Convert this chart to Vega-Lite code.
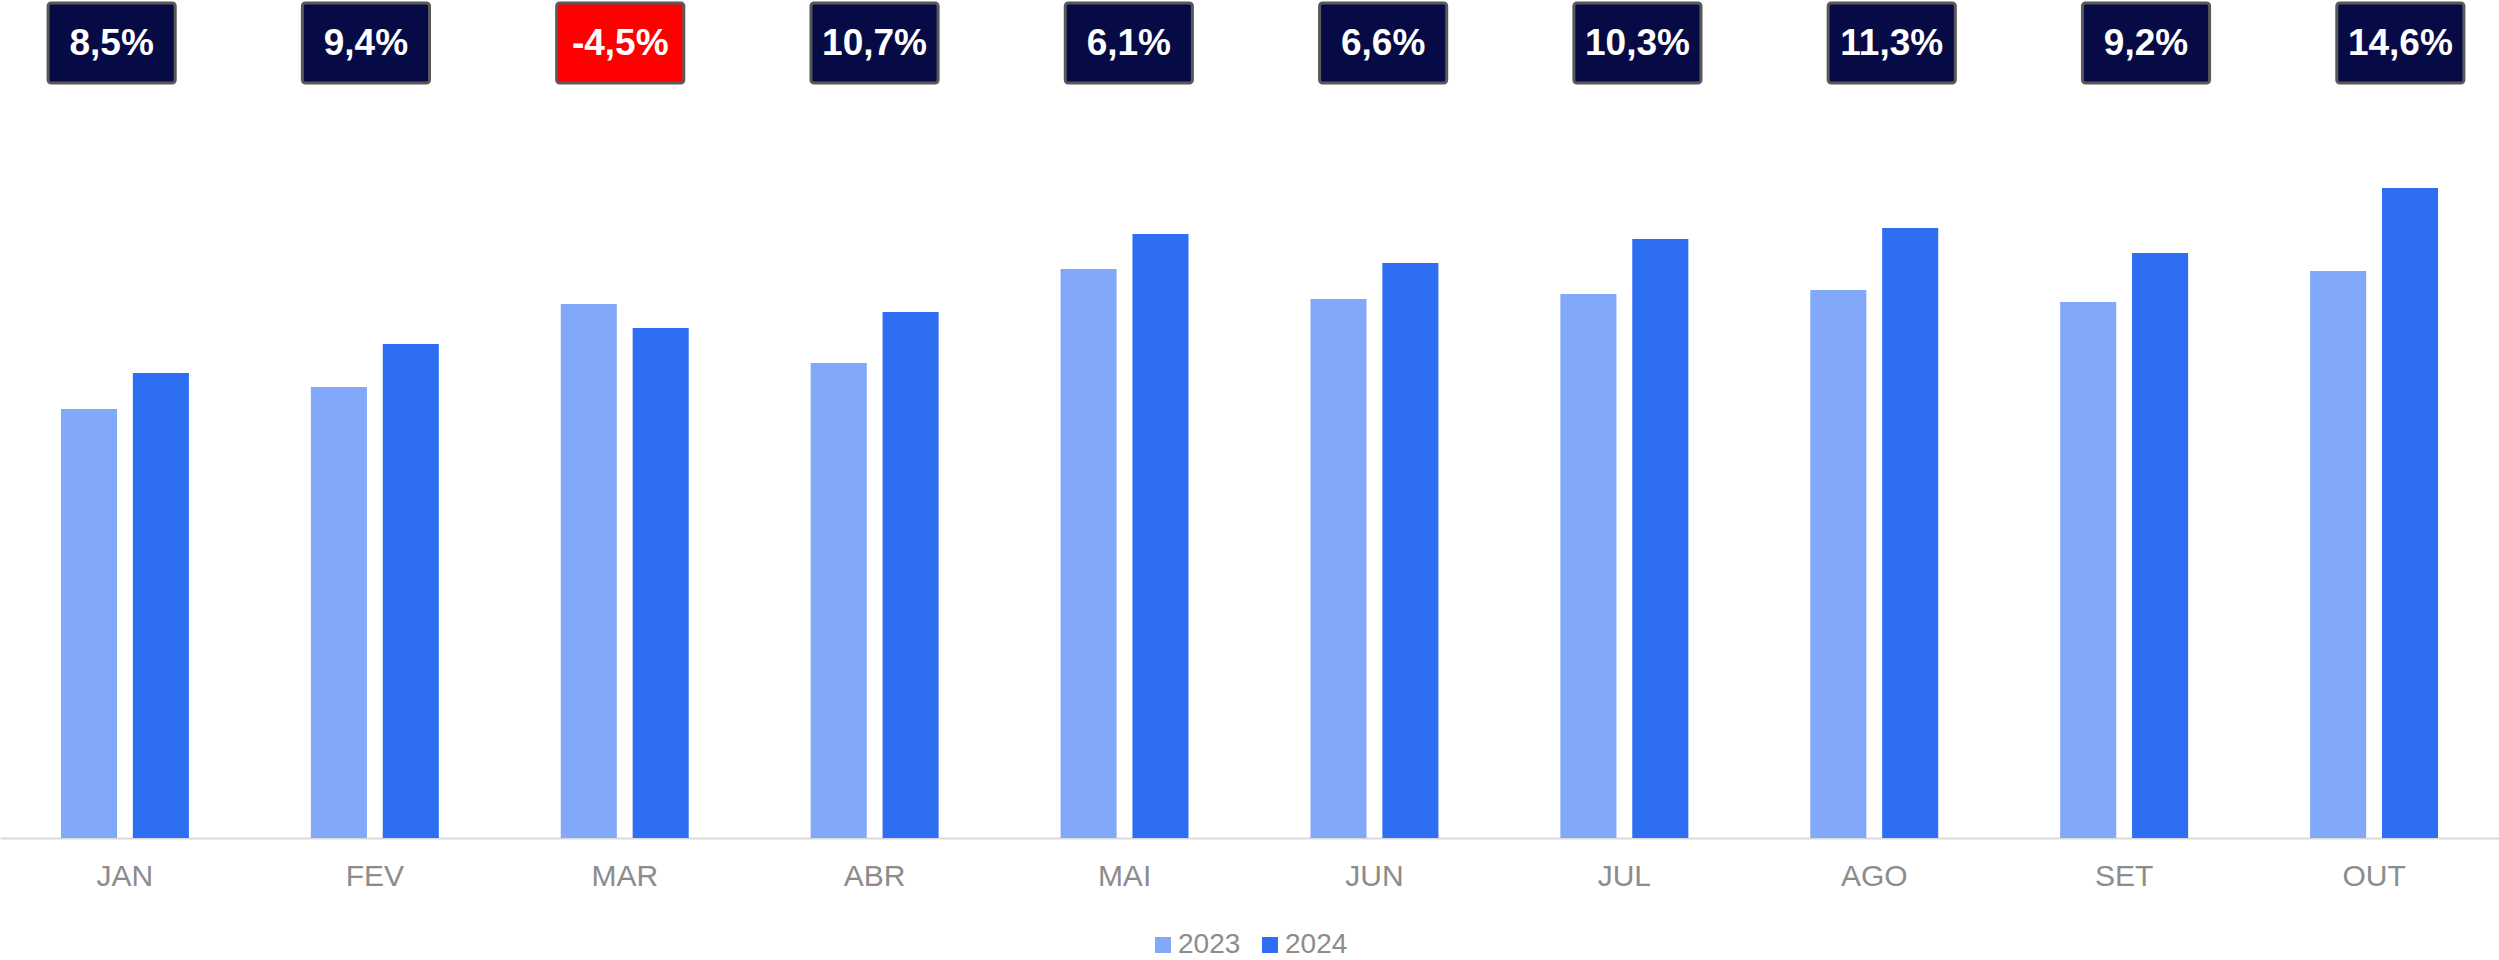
{
  "$schema": "https://vega.github.io/schema/vega-lite/v6.json",
  "width": 2499,
  "height": 838,
  "autosize": "none",
  "padding": {"left": 0, "right": 0, "top": 0, "bottom": 122},
  "background": "white",
  "config": {
    "view": {"stroke": null},
    "font": "Liberation Sans"
  },
  "datasets": {
    "bars": [
      {"month": "JAN", "year": "2023", "value": 429},
      {"month": "JAN", "year": "2024", "value": 465},
      {"month": "FEV", "year": "2023", "value": 451},
      {"month": "FEV", "year": "2024", "value": 494},
      {"month": "MAR", "year": "2023", "value": 534},
      {"month": "MAR", "year": "2024", "value": 510},
      {"month": "ABR", "year": "2023", "value": 475},
      {"month": "ABR", "year": "2024", "value": 526},
      {"month": "MAI", "year": "2023", "value": 569},
      {"month": "MAI", "year": "2024", "value": 604},
      {"month": "JUN", "year": "2023", "value": 539},
      {"month": "JUN", "year": "2024", "value": 575},
      {"month": "JUL", "year": "2023", "value": 544},
      {"month": "JUL", "year": "2024", "value": 599},
      {"month": "AGO", "year": "2023", "value": 548},
      {"month": "AGO", "year": "2024", "value": 610},
      {"month": "SET", "year": "2023", "value": 536},
      {"month": "SET", "year": "2024", "value": 585},
      {"month": "OUT", "year": "2023", "value": 567},
      {"month": "OUT", "year": "2024", "value": 650}
    ],
    "changes": [
      {"month": "JAN", "change": 8.5, "label": "8,5%"},
      {"month": "FEV", "change": 9.4, "label": "9,4%"},
      {"month": "MAR", "change": -4.5, "label": "-4,5%"},
      {"month": "ABR", "change": 10.7, "label": "10,7%"},
      {"month": "MAI", "change": 6.1, "label": "6,1%"},
      {"month": "JUN", "change": 6.6, "label": "6,6%"},
      {"month": "JUL", "change": 10.3, "label": "10,3%"},
      {"month": "AGO", "change": 11.3, "label": "11,3%"},
      {"month": "SET", "change": 9.2, "label": "9,2%"},
      {"month": "OUT", "change": 14.6, "label": "14,6%"}
    ]
  },
  "resolve": {"scale": {"x": "independent"}, "axis": {"x": "independent"}},
  "layer": [
    {
      "data": {"name": "bars"},
      "mark": {"type": "bar"},
      "encoding": {
        "x": {
          "field": "month",
          "type": "nominal",
          "scale": {
            "domain": ["JAN", "FEV", "MAR", "ABR", "MAI", "JUN", "JUL", "AGO", "SET", "OUT"],
            "paddingInner": 0.488,
            "paddingOuter": 0.244
          },
          "axis": {
            "title": null,
            "labelAngle": 0,
            "ticks": false,
            "labelPadding": 23,
            "labelFontSize": 30,
            "labelColor": "#8C8C8C",
            "labelFont": "Liberation Sans",
            "domainColor": "#D9D9D9",
            "domainWidth": 2,
            "grid": false
          }
        },
        "xOffset": {
          "field": "year",
          "type": "nominal",
          "scale": {"paddingInner": 0.22, "paddingOuter": 0}
        },
        "y": {
          "field": "value",
          "type": "quantitative",
          "scale": {"domain": [0, 838], "nice": false, "zero": true},
          "axis": null
        },
        "color": {
          "field": "year",
          "type": "nominal",
          "scale": {"domain": ["2023", "2024"], "range": ["#82A8F9", "#2D6EF3"]},
          "legend": {
            "title": null,
            "orient": "none",
            "legendX": 1149,
            "legendY": 931,
            "direction": "horizontal",
            "symbolType": "square",
            "symbolSize": 256,
            "symbolStrokeWidth": 0,
            "labelFontSize": 28,
            "labelColor": "#8C8C8C",
            "labelFont": "Liberation Sans",
            "columnPadding": 15,
            "symbolOffset": 0,
            "labelOffset": 1
          }
        }
      }
    },
    {
      "data": {"name": "changes"},
      "encoding": {
        "x": {
          "field": "month",
          "type": "nominal",
          "scale": {
            "domain": ["JAN", "FEV", "MAR", "ABR", "MAI", "JUN", "JUL", "AGO", "SET", "OUT"],
            "paddingInner": 0.5,
            "paddingOuter": 0.1635,
            "align": 0.578
          },
          "axis": null
        }
      },
      "layer": [
        {
          "mark": {"type": "rect", "stroke": "#595959", "strokeWidth": 3, "cornerRadius": 3},
          "encoding": {
            "y": {"datum": 835},
            "y2": {"datum": 755},
            "fill": {
              "condition": {"test": "datum.change < 0", "value": "#FF0000"},
              "value": "#070B45"
            }
          }
        },
        {
          "mark": {
            "type": "text",
            "color": "white",
            "fontSize": 37,
            "fontWeight": "bold",
            "font": "Liberation Sans",
            "baseline": "middle",
            "align": "center"
          },
          "encoding": {
            "y": {"datum": 794},
            "text": {"field": "label"}
          }
        }
      ]
    }
  ]
}
